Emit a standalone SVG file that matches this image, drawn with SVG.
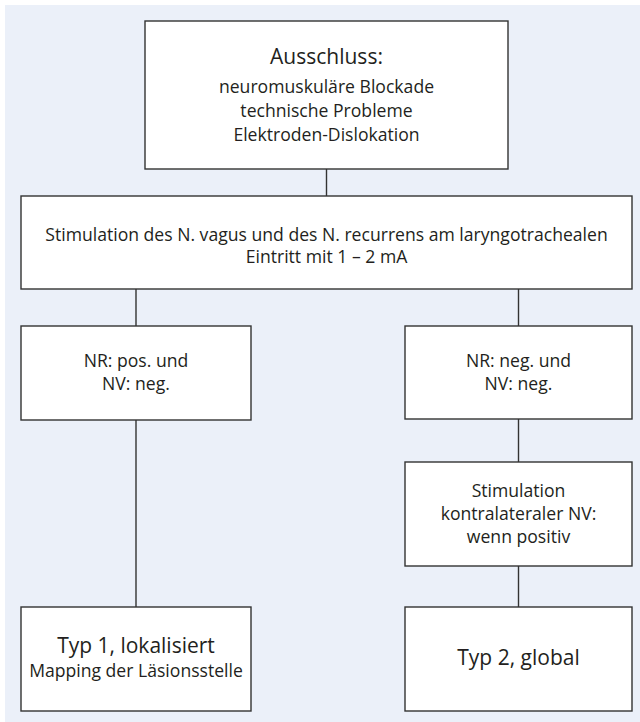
<svg xmlns="http://www.w3.org/2000/svg" width="640" height="722" viewBox="0 0 640 722">
<style>
.box{fill:#ffffff;stroke:#333333;stroke-width:1.4}
.con{stroke:#333333;stroke-width:1.4;fill:none}
text{font-family:"Open Sans","Noto Sans",sans-serif;fill:#231f20;text-anchor:middle}
.t{font-size:17.6px}
.h{font-size:21px}
.s{font-size:17.6px}
</style>
<rect x="5" y="5" width="635" height="717" fill="#ebf0f9"/>
<g id="connectors">
<line class="con" x1="326.5" y1="169" x2="326.5" y2="196"/>
<line class="con" x1="136" y1="289" x2="136" y2="326"/>
<line class="con" x1="518.5" y1="289" x2="518.5" y2="326"/>
<line class="con" x1="136" y1="420" x2="136" y2="607"/>
<line class="con" x1="518.5" y1="419" x2="518.5" y2="462"/>
<line class="con" x1="518.5" y1="566" x2="518.5" y2="607"/>
</g>
<g id="ausschluss">
<rect class="box" x="145" y="21" width="363" height="148"/>
<text class="h" x="326.5" y="64">Ausschluss:</text>
<text class="t" x="326.5" y="93">neuromuskuläre Blockade</text>
<text class="t" x="326.5" y="117">technische Probleme</text>
<text class="t" x="326.5" y="141">Elektroden-Dislokation</text>
</g>
<g id="stimulation">
<rect class="box" x="21" y="196" width="611" height="93"/>
<text class="t" x="326.5" y="241">Stimulation des N. vagus und des N. recurrens am laryngotrachealen</text>
<text class="t" x="326.5" y="263">Eintritt mit 1 – 2 mA</text>
</g>
<g id="nr-pos">
<rect class="box" x="21" y="326" width="230" height="94"/>
<text class="t" x="136" y="367">NR: pos. und</text>
<text class="t" x="136" y="390">NV: neg.</text>
</g>
<g id="nr-neg">
<rect class="box" x="405" y="326" width="227" height="93"/>
<text class="t" x="518.5" y="367">NR: neg. und</text>
<text class="t" x="518.5" y="390">NV: neg.</text>
</g>
<g id="kontra">
<rect class="box" x="405" y="462" width="227" height="104"/>
<text class="t" x="518.5" y="497">Stimulation</text>
<text class="t" x="518.5" y="520">kontralateraler NV:</text>
<text class="t" x="518.5" y="543">wenn positiv</text>
</g>
<g id="typ1">
<rect class="box" x="21" y="607" width="230" height="104"/>
<text class="h" x="136" y="653">Typ 1, lokalisiert</text>
<text class="s" x="136" y="677">Mapping der Läsionsstelle</text>
</g>
<g id="typ2">
<rect class="box" x="405" y="607" width="227" height="104"/>
<text class="h" x="518.5" y="665">Typ 2, global</text>
</g>
</svg>
